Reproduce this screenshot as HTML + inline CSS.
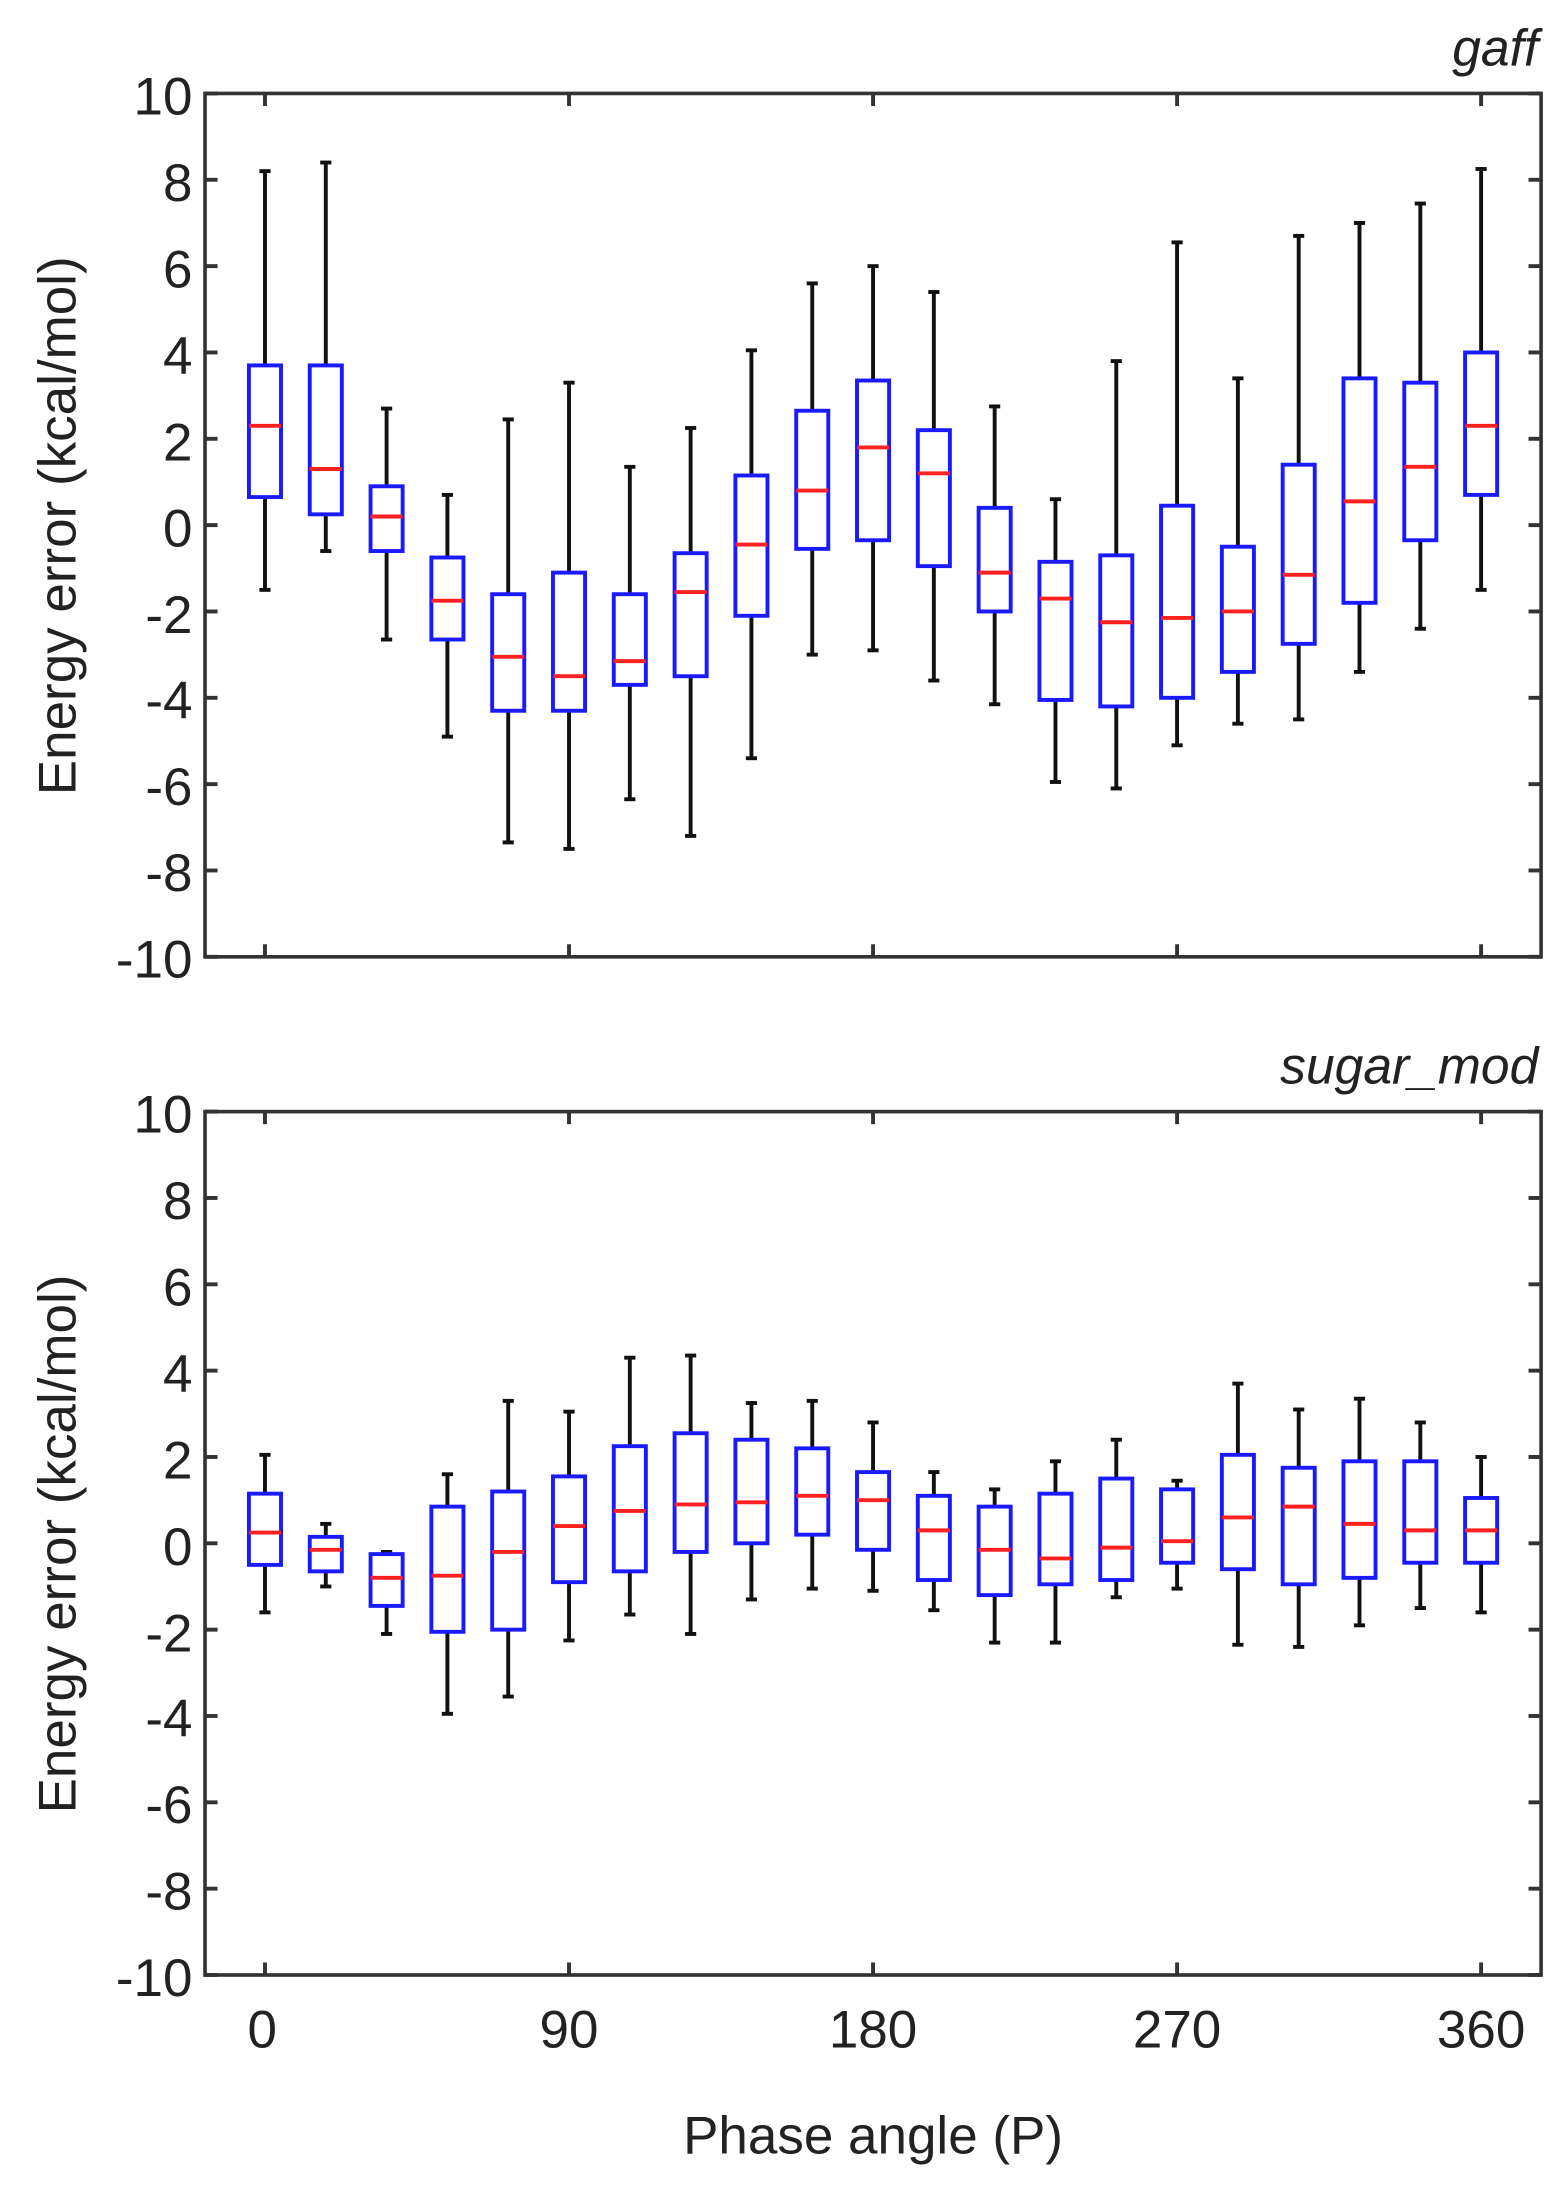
<!DOCTYPE html>
<html><head><meta charset="utf-8"><style>
html,body{margin:0;padding:0;background:#fff}
svg{display:block}
text{font-family:"Liberation Sans",sans-serif;fill:#222}
</style></head><body>
<svg id="s" width="1562" height="2187" viewBox="0 0 1120 1568" preserveAspectRatio="none" xmlns="http://www.w3.org/2000/svg">
<g font-size="38" text-anchor="end">
<text x="138" y="82">10</text><text x="138" y="144">8</text><text x="138" y="206">6</text><text x="138" y="268">4</text><text x="138" y="330">2</text><text x="138" y="392">0</text><text x="138" y="454">-2</text><text x="138" y="515">-4</text><text x="138" y="577">-6</text><text x="138" y="639">-8</text><text x="138" y="701">-10</text>
<text x="138" y="812">10</text><text x="138" y="874">8</text><text x="138" y="936">6</text><text x="138" y="998">4</text><text x="138" y="1060">2</text><text x="138" y="1122">0</text><text x="138" y="1184">-2</text><text x="138" y="1245">-4</text><text x="138" y="1307">-6</text><text x="138" y="1369">-8</text><text x="138" y="1431">-10</text>
</g>
<g font-size="38" text-anchor="middle">
<text x="188" y="1468">0</text><text x="408" y="1468">90</text><text x="626" y="1468">180</text><text x="844" y="1468">270</text><text x="1062" y="1468">360</text>
<text x="626" y="1544">Phase angle (P)</text>
<text transform="translate(54,377) rotate(-90)">Energy error (kcal/mol)</text>
<text transform="translate(54,1107) rotate(-90)">Energy error (kcal/mol)</text>
</g>
<g font-size="37" text-anchor="end" font-style="italic">
<text x="1103" y="47">gaff</text><text x="1103" y="777">sugar_mod</text>
</g>
<g id="g"></g>
</svg>
<script>
var g=document.getElementById('g'),ns='http://www.w3.org/2000/svg';
function L(x1,y1,x2,y2,c,w){var e=document.createElementNS(ns,'line');e.setAttribute('x1',x1);e.setAttribute('y1',y1);e.setAttribute('x2',x2);e.setAttribute('y2',y2);e.setAttribute('stroke',c);e.setAttribute('stroke-width',w||2.8);g.appendChild(e);}
var A=[[-1.5,0.65,2.3,3.7,8.2],[-0.6,0.25,1.3,3.7,8.4],[-2.65,-0.6,0.2,0.9,2.7],[-4.9,-2.65,-1.75,-0.75,0.7],[-7.35,-4.3,-3.05,-1.6,2.45],[-7.5,-4.3,-3.5,-1.1,3.3],[-6.35,-3.7,-3.15,-1.6,1.35],[-7.2,-3.5,-1.55,-0.65,2.25],[-5.4,-2.1,-0.45,1.15,4.05],[-3.0,-0.55,0.8,2.65,5.6],[-2.9,-0.35,1.8,3.35,6.0],[-3.6,-0.95,1.2,2.2,5.4],[-4.15,-2.0,-1.1,0.4,2.75],[-5.95,-4.05,-1.7,-0.85,0.6],[-6.1,-4.2,-2.25,-0.7,3.8],[-5.1,-4.0,-2.15,0.45,6.55],[-4.6,-3.4,-2.0,-0.5,3.4],[-4.5,-2.75,-1.15,1.4,6.7],[-3.4,-1.8,0.55,3.4,7.0],[-2.4,-0.35,1.35,3.3,7.45],[-1.5,0.7,2.3,4.0,8.25]];
var B=[[-1.6,-0.5,0.25,1.15,2.05],[-1.0,-0.65,-0.15,0.15,0.45],[-2.1,-1.45,-0.8,-0.25,-0.2],[-3.95,-2.05,-0.75,0.85,1.6],[-3.55,-2.0,-0.2,1.2,3.3],[-2.25,-0.9,0.4,1.55,3.05],[-1.65,-0.65,0.75,2.25,4.3],[-2.1,-0.2,0.9,2.55,4.35],[-1.3,0.0,0.95,2.4,3.25],[-1.05,0.2,1.1,2.2,3.3],[-1.1,-0.15,1.0,1.65,2.8],[-1.55,-0.85,0.3,1.1,1.65],[-2.3,-1.2,-0.15,0.85,1.25],[-2.3,-0.95,-0.35,1.15,1.9],[-1.25,-0.85,-0.1,1.5,2.4],[-1.05,-0.45,0.05,1.25,1.45],[-2.35,-0.6,0.6,2.05,3.7],[-2.4,-0.95,0.85,1.75,3.1],[-1.9,-0.8,0.45,1.9,3.35],[-1.5,-0.45,0.3,1.9,2.8],[-1.6,-0.45,0.3,1.05,2.0]];
function panel(top,D){var bot=top+619;function Y(v){return top+(10-v)*30.95;}
for(var i=0;i<D.length;i++){var d=D[i],x=190+i*43.6,w=11.5;
L(x,Y(d[0]),x,Y(d[1]),'#111');L(x,Y(d[3]),x,Y(d[4]),'#111');
L(x-4,Y(d[0]),x+4,Y(d[0]),'#111');L(x-4,Y(d[4]),x+4,Y(d[4]),'#111');
var r=document.createElementNS(ns,'rect');r.setAttribute('x',x-w);r.setAttribute('y',Y(d[3]));r.setAttribute('width',2*w);r.setAttribute('height',Y(d[1])-Y(d[3]));r.setAttribute('fill','none');r.setAttribute('stroke','#1a1aff');r.setAttribute('stroke-width',2.8);g.appendChild(r);
L(x-w,Y(d[2]),x+w,Y(d[2]),'#ff2020');}
var r=document.createElementNS(ns,'rect');r.setAttribute('x',147);r.setAttribute('y',top);r.setAttribute('width',958);r.setAttribute('height',619);r.setAttribute('fill','none');r.setAttribute('stroke','#333');r.setAttribute('stroke-width',2.6);g.appendChild(r);
for(var v=-10;v<=10;v+=2){L(147,Y(v),156,Y(v),'#333');L(1096,Y(v),1105,Y(v),'#333');}
for(var k=0;k<5;k++){var x=190+k*218;L(x,top,x,top+9,'#333');L(x,bot,x,bot-9,'#333');}}
panel(67,A);panel(797,B);
</script>
</body></html>
